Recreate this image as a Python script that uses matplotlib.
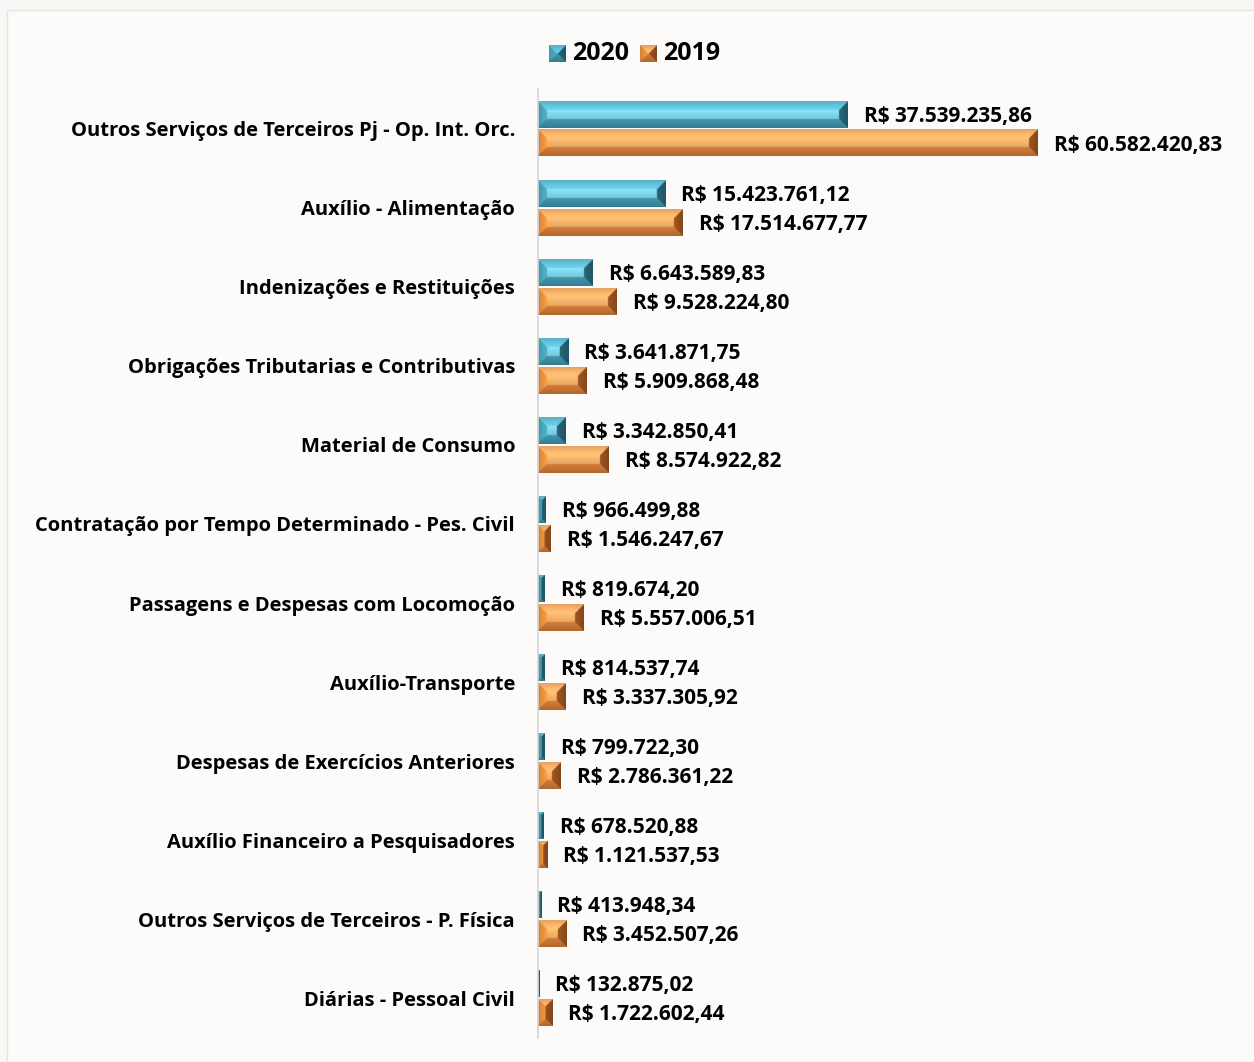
import matplotlib.pyplot as plt
import numpy as np
from matplotlib.patches import Rectangle

plt.rcParams['font.family'] = ['Open Sans', 'DejaVu Sans']

categorias = ['Outros Serviços de Terceiros Pj - Op. Int. Orc.',
              'Auxílio - Alimentação',
              'Indenizações e Restituições',
              'Obrigações Tributarias e Contributivas',
              'Material de Consumo',
              'Contratação por Tempo Determinado - Pes. Civil',
              'Passagens e Despesas com Locomoção',
              'Auxílio-Transporte',
              'Despesas de Exercícios Anteriores',
              'Auxílio Financeiro a Pesquisadores',
              'Outros Serviços de Terceiros - P. Física',
              'Diárias - Pessoal Civil']
v2020 = [37539235.86, 15423761.12, 6643589.83, 3641871.75, 3342850.41, 966499.88,
         819674.20, 814537.74, 799722.30, 678520.88, 413948.34, 132875.02]
v2019 = [60582420.83, 17514677.77, 9528224.80, 5909868.48, 8574922.82, 1546247.67,
         5557006.51, 3337305.92, 2786361.22, 1121537.53, 3452507.26, 1722602.44]

# cores das faces do bisel: topo, interior, base, esquerda, direita
azul = {'top': '#63c3db', 'mid': '#84dbf0', 'bot': '#3b8aa0', 'left': '#4aa4bc', 'right': '#245e6e'}
laranja = {'top': '#fbb46c', 'mid': '#fbb86e', 'bot': '#c27232', 'left': '#e8903e', 'right': '#914e1e'}


def moeda(v):
    s = f'{v:,.2f}'.replace(',', 'X').replace('.', ',').replace('X', '.')
    return 'R$ ' + s


def rgb(c):
    c = c.lstrip('#')
    return np.array([int(c[i:i + 2], 16) / 255 for i in (0, 2, 4)])


def bisel(wpx, hpx, cores, b=9.0, ss=2):
    nx = max(int(round(wpx * ss)), 2)
    ny = max(int(round(hpx * ss)), 2)
    u = (np.arange(nx) + 0.5) / nx * wpx
    v = (np.arange(ny) + 0.5) / ny * hpx
    U, V = np.meshgrid(u, v)
    d = np.stack([V, hpx - V, U, wpx - U])
    face = np.argmin(d, axis=0)
    dmin = np.min(d, axis=0)
    img = np.zeros((ny, nx, 3))
    nomes = ['top', 'bot', 'left', 'right']
    for i, n in enumerate(nomes):
        m = face == i
        c = rgb(cores[n])
        # leve gradiente dentro da face
        k = 0.9 + 0.2 * np.clip(dmin / b, 0, 1)
        img[m] = np.clip(c[None, :] * k[m][:, None], 0, 1)
    inner = dmin >= b
    t = np.clip((V - b) / max(hpx - 2 * b, 1), 0, 1)
    cm = rgb(cores['mid'])
    shade = 1.05 - 0.15 * t
    img[inner] = np.clip(cm[None, :] * shade[inner][:, None], 0, 1)
    return img


W, H, DPI = 1254, 1062, 100
fig = plt.figure(figsize=(W / DPI, H / DPI), dpi=DPI, facecolor='#f8f7f5')
fig.patches.append(Rectangle((7 / W, 0), 1, 1 - 10 / H, transform=fig.transFigure,
                             facecolor='#fcfbf9', edgecolor='#e6e4e0', lw=1, zorder=-1))

ax_l, ax_r, ax_t, ax_b = 538, 1240, 89, 1038
ax = fig.add_axes([ax_l / W, 1 - ax_b / H, (ax_r - ax_l) / W, (ax_b - ax_t) / H])
ax.set_facecolor('none')

xmax = 85.06e6
n = len(categorias)
pos = np.arange(n)
alt = 0.34
desl = 0.183
px_x = (ax_r - ax_l) / xmax
px_y = (ax_b - ax_t) / n

for i in range(n):
    for val, off, cores in ((v2020[i], -desl, azul), (v2019[i], desl, laranja)):
        yc = pos[i] + off
        img = bisel(val * px_x, alt * px_y, cores)
        ax.imshow(img, extent=(0, val, yc + alt / 2, yc - alt / 2), origin='upper',
                  aspect='auto', interpolation='bilinear', zorder=2)
        ax.annotate(moeda(val), (val, yc), xytext=(16, -2), textcoords='offset pixels',
                    ha='left', va='center', fontsize=15, fontweight='bold', color='black')

ax.set_xlim(0, xmax)
ax.set_ylim(n - 0.5, -0.5)
ax.set_yticks(pos)
ax.set_yticklabels(categorias, fontsize=14.5, fontweight='bold')
ax.tick_params(axis='y', length=0, pad=16.5)
ax.set_xticks([])
for s in ['top', 'right', 'bottom']:
    ax.spines[s].set_visible(False)
ax.spines['left'].set_color('#d4d4d4')
ax.spines['left'].set_linewidth(1.2)

# legenda com quadradinhos biselados
for x0, cores, rot in ((549, azul, '2020'), (640, laranja, '2019')):
    lax = fig.add_axes([x0 / W, 1 - 62 / H, 17 / W, 17 / H])
    lax.imshow(bisel(17, 17, cores, b=8.5), extent=(0, 1, 0, 1), aspect='auto')
    lax.axis('off')
    fig.text((x0 + 23) / W, 1 - 54 / H, rot, fontsize=18, fontweight='bold',
             ha='left', va='center')

fig.savefig('out.png', dpi=DPI, facecolor=fig.get_facecolor())
